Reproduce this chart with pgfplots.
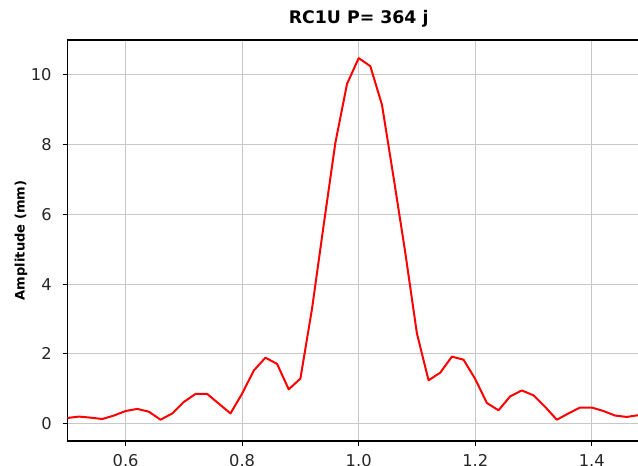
\documentclass[border=0pt]{standalone}
\usepackage{fontspec}
\setmainfont{DejaVu Sans}
\usepackage{pgfplots}
\pgfplotsset{compat=1.18}
\definecolor{gridgray}{HTML}{C8C8C8}
\definecolor{txt}{HTML}{262626}
\begin{document}
\begin{tikzpicture}
\begin{axis}[
  at={(0,0)}, anchor=south west,
  scale only axis, width=437pt, height=300.75pt,
  xmin=0.5, xmax=1.5, ymin=-0.5, ymax=11.0,
  xtick={0.6,0.8,1.0,1.2,1.4},
  xticklabels={0.6,0.8,1.0,1.2,1.4},
  ytick={0,2,4,6,8,10},
  yticklabels={0,2,4,6,8,10},
  grid=major,
  major grid style={gridgray, line width=0.8pt},
  tick align=outside, tick pos=left,
  major tick length=3.5pt,
  every tick/.style={black, line width=0.8pt},
  axis line style={line width=0.8pt, black},
  xticklabel style={anchor=north, inner sep=0pt, yshift=-6.6pt, text=txt, font=\fontsize{12.2}{14}\selectfont},
  yticklabel style={anchor=east, inner sep=0pt, xshift=-8.1pt, text=txt, font=\fontsize{12.2}{14}\selectfont},
  title={RC1U P= 364 j},
  title style={at={(axis description cs:0.5,1)}, anchor=base, yshift=6.2pt, inner sep=0pt, font=\fontsize{13}{15}\selectfont\bfseries},
  ylabel={Amplitude (mm)},
  ylabel style={at={(axis description cs:-0.0794,0.5)}, anchor=center, inner sep=0pt, font=\fontsize{9.8}{12}\selectfont\bfseries},
]
\addplot[color=red, line width=1.5pt, line join=round] table {
x y
0.50 0.16
0.52 0.20
0.54 0.17
0.56 0.13
0.58 0.23
0.60 0.36
0.62 0.42
0.64 0.34
0.66 0.11
0.68 0.29
0.70 0.62
0.72 0.85
0.74 0.85
0.76 0.57
0.78 0.29
0.80 0.86
0.82 1.52
0.84 1.89
0.86 1.71
0.88 0.98
0.90 1.29
0.92 3.30
0.94 5.70
0.96 8.05
0.98 9.74
1.00 10.48
1.02 10.25
1.04 9.14
1.06 7.05
1.08 4.90
1.10 2.58
1.12 1.24
1.14 1.46
1.16 1.92
1.18 1.83
1.20 1.28
1.22 0.59
1.24 0.38
1.26 0.78
1.28 0.95
1.30 0.81
1.32 0.48
1.34 0.11
1.36 0.29
1.38 0.46
1.40 0.46
1.42 0.36
1.44 0.23
1.46 0.19
1.48 0.24
};
\end{axis}
\pgfresetboundingbox
\useasboundingbox (-50.5pt,-18.75pt) rectangle (428pt,330.75pt);
\end{tikzpicture}
\end{document}
